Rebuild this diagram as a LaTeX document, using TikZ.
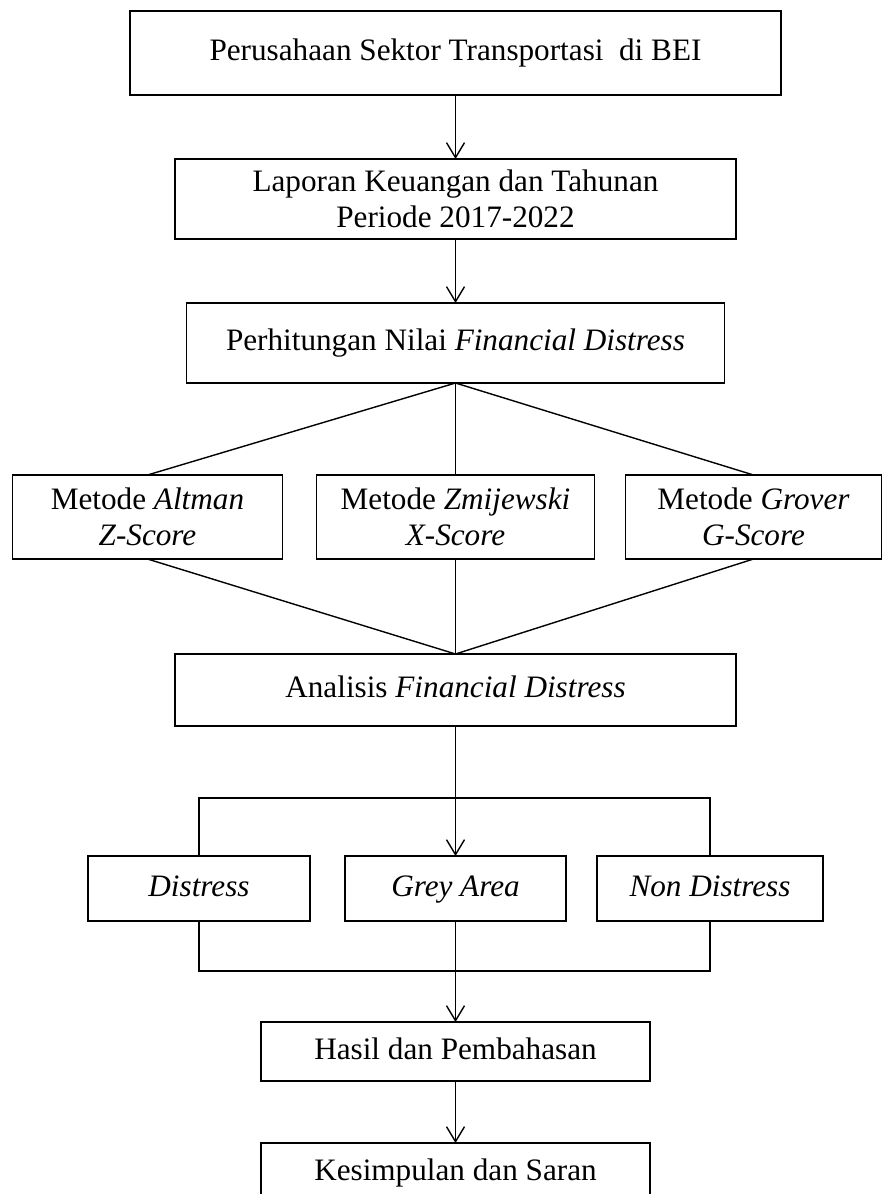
\documentclass[tikz,border=0pt]{standalone}
\usepackage{fontspec}
\setmainfont{Liberation Serif}
\usetikzlibrary{arrows.meta,positioning}
\tikzset{
    box/.style={
        draw,
        line width=0.9pt,
        align=center,
        inner sep=2pt,
        outer sep=0pt,
        font=\fontsize{15.6}{18}\selectfont
    },
    single/.style={
        box,
        text height=11pt,
        text depth=3.5pt
    },
    arrow/.style={
        -{Straight Barb[length=7.5pt,width=9pt]},
        line width=0.7pt
    },
    link/.style={line width=0.7pt}
}

\begin{document}
\begin{tikzpicture}[x=0.5pt, y=-0.5pt]

\clip (0,0) rectangle (882,1194);

\node[single, minimum width=325.5pt, minimum height=42pt] (company) at (455.5,53)
    {Perusahaan Sektor Transportasi\ \ di BEI};
\node[box, minimum width=280.5pt, minimum height=40pt, below=32pt of company] (report)
    {Laporan Keuangan dan Tahunan\\Periode 2017-2022};
\node[single, minimum width=269pt, minimum height=40pt, below=32pt of report] (calc)
    {Perhitungan Nilai \textit{Financial Distress}};

\node[box, minimum width=139pt, minimum height=42pt, below=46pt of calc] (zmij)
    {Metode \textit{Zmijewski}\\\textit{X-Score}};
\node[box, minimum width=135pt, minimum height=42pt, left=17pt of zmij] (altman)
    {Metode \textit{Altman}\\\textit{Z-Score}};
\node[box, minimum width=128pt, minimum height=42pt, right=15.5pt of zmij] (grover)
    {Metode \textit{Grover}\\\textit{G-Score}};

\node[single, minimum width=280.5pt, minimum height=36pt, below=47.5pt of zmij] (analysis)
    {Analisis \textit{Financial Distress}};

\node[single, minimum width=110.5pt, minimum height=32.5pt, below=65pt of analysis] (grey)
    {\textit{Grey Area}};
\node[single, minimum width=111pt, minimum height=32.5pt, left=17.5pt of grey] (distress)
    {\textit{Distress}};
\node[single, minimum width=113pt, minimum height=32.5pt, right=15.5pt of grey] (nondistress)
    {\textit{Non Distress}};

\node[single, minimum width=194.5pt, minimum height=29.5pt, below=50.5pt of grey] (result)
    {Hasil dan Pembahasan};
\node[single, minimum width=194.5pt, minimum height=29.5pt, below=31pt of result] (conclusion)
    {Kesimpulan dan Saran};

\draw[arrow] (company) -- (report);
\draw[arrow] (report) -- (calc);
\foreach \m in {altman,zmij,grover}
    \draw[link] (calc.south) -- (\m.north);
\foreach \m in {altman,zmij,grover}
    \draw[link] (\m.south) -- (analysis.north);
\draw[arrow] (analysis) -- (grey);
\draw[link] (distress.north) -- ++(0,-58) -| (nondistress.north);
\draw[link] (distress.south) -- ++(0,50) -| (nondistress.south);
\draw[arrow] (grey) -- (result);
\draw[arrow] (result) -- (conclusion);

\end{tikzpicture}
\end{document}
